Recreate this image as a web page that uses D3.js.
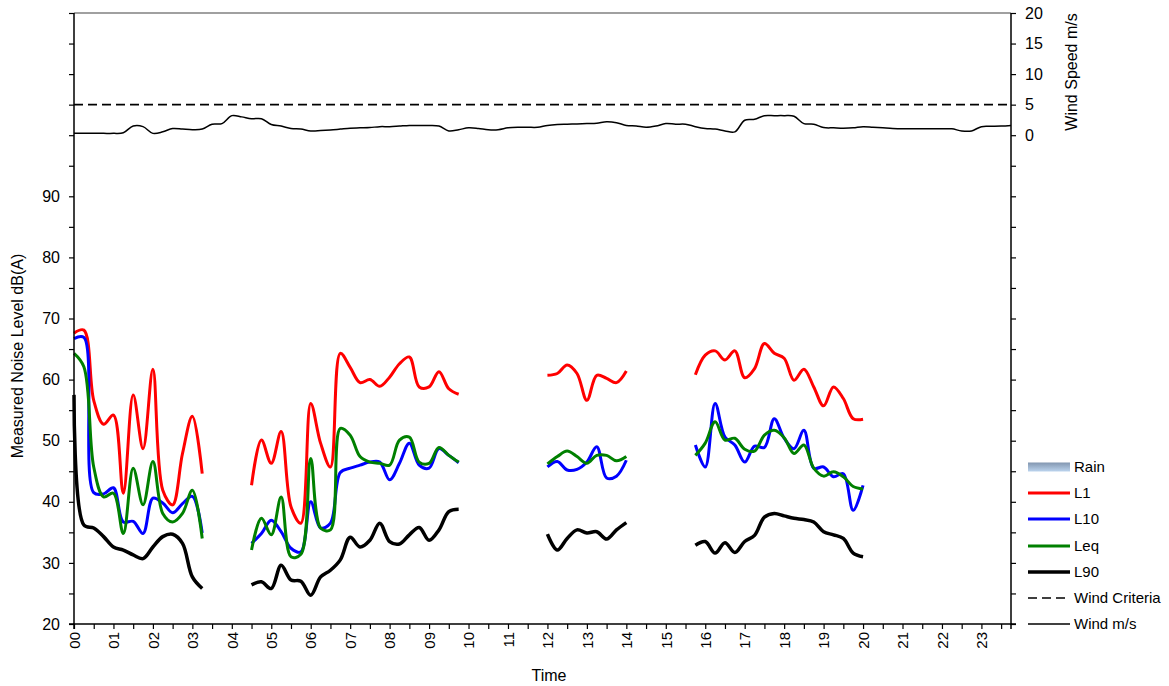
<!DOCTYPE html>
<html>
<head>
<meta charset="utf-8">
<script src="https://cdn.jsdelivr.net/npm/d3@7"></script>
<style>
  html, body { margin: 0; padding: 0; background: #fff; }
  svg { display: block; font-family: "Liberation Sans", Arial, sans-serif; }
</style>
</head>
<body>
<svg id="chart" width="1169" height="686"></svg>
<script>
const _ = null;
// 15-minute intervals, 00:00 .. 23:45 (96 slots)
const hourLabels = ["00","01","02","03","04","05","06","07","08","09","10","11",
                    "12","13","14","15","16","17","18","19","20","21","22","23"];
const leftTicks = [20, 30, 40, 50, 60, 70, 80, 90];
const rightTicks = [0, 5, 10, 15, 20];

const L1 = [
  67.6,68.1,56.6,52.7,54.2,41.4,57.5,48.7,61.7,41.9,39.5,47.9,54.0,44.6,
  _,_,_,_,
  42.7,50.1,46.3,51.5,39.2,36.5,56.1,49.6,45.7,64.3,62.0,59.5,60.0,58.9,60.4,62.6,63.7,58.8,58.8,61.3,58.5,57.6,
  _,_,_,_,_,_,_,_,
  60.7,61.0,62.4,61.0,56.6,60.7,60.2,59.5,61.4,
  _,_,_,_,_,_,
  60.8,64.0,64.7,63.2,64.7,60.3,61.8,65.9,64.3,63.5,59.9,61.7,58.8,55.7,58.8,56.9,53.6,53.5,
  _,_,_,_,_,_,_,_,_,_,_,_,_,_,_
];
const L10 = [
  66.7,66.9,41.5,41.3,42.3,36.7,36.8,34.8,40.6,39.8,38.2,39.7,40.9,34.9,
  _,_,_,_,
  33.2,34.8,37.0,35.1,32.4,31.8,40.0,35.7,36.5,44.8,45.5,46.0,46.5,46.5,43.6,46.3,49.6,46.0,45.5,48.7,47.6,46.4,
  _,_,_,_,_,_,_,_,
  45.7,46.6,45.2,45.3,46.5,49.0,43.9,44.2,46.8,
  _,_,_,_,_,_,
  49.3,45.7,56.1,50.6,49.3,46.5,49.1,48.9,53.6,50.4,48.7,51.7,45.5,45.7,44.1,44.6,38.6,42.7,
  _,_,_,_,_,_,_,_,_,_,_,_,_,_,_
];
const Leq = [
  64.3,62.1,45.7,40.8,41.4,34.8,45.5,39.5,46.6,38.1,36.7,38.1,41.9,34.0,
  _,_,_,_,
  32.1,37.3,34.6,40.8,31.0,31.4,47.1,35.7,35.4,52.0,50.9,47.4,46.5,46.3,46.0,50.1,50.6,46.5,46.3,48.9,47.6,46.5,
  _,_,_,_,_,_,_,_,
  46.2,47.4,48.3,47.4,46.3,47.6,47.6,46.7,47.4,
  _,_,_,_,_,_,
  47.6,49.6,53.1,50.1,50.4,48.6,48.3,50.9,51.7,50.5,47.9,49.3,45.5,44.2,44.9,44.1,42.5,42.1,
  _,_,_,_,_,_,_,_,_,_,_,_,_,_,_
];
const L90 = [
  57.5,36.2,35.7,34.3,32.6,32.1,31.3,30.7,32.6,34.3,34.7,33.2,27.7,25.8,
  _,_,_,_,
  26.4,26.9,25.8,29.6,27.2,27.0,24.7,27.7,28.8,30.5,34.2,32.6,33.7,36.5,33.5,33.1,34.6,35.8,33.7,35.4,38.4,38.8,
  _,_,_,_,_,_,_,_,
  34.7,32.1,34.0,35.4,34.9,35.1,33.9,35.4,36.6,
  _,_,_,_,_,_,
  32.9,33.5,31.6,33.3,31.7,33.5,34.5,37.5,38.1,37.7,37.3,37.1,36.7,35.1,34.6,34.0,31.6,31.0,
  _,_,_,_,_,_,_,_,_,_,_,_,_,_,_
];
const windSpeed = [
  0.3,0.3,0.3,0.3,0.3,0.4,1.5,1.4,0.3,0.55,
  1.1,1.0,0.9,1.0,1.8,1.9,3.2,3.0,2.7,2.7,
  1.75,1.5,1.1,1.0,0.7,0.75,0.85,1.0,1.15,1.2,
  1.25,1.4,1.4,1.5,1.6,1.6,1.6,1.5,0.7,0.9,
  1.2,1.1,0.9,0.9,1.2,1.3,1.3,1.3,1.6,1.75,
  1.8,1.85,1.9,1.95,2.2,2.05,1.6,1.5,1.3,1.5,
  1.9,1.8,1.8,1.4,1.1,1.0,0.7,0.55,2.45,2.6,
  3.2,3.2,3.2,3.1,1.9,1.8,1.25,1.2,1.15,1.2,
  1.4,1.3,1.2,1.1,1.05,1.05,1.05,1.05,1.05,1.05,
  0.7,0.7,1.4,1.45,1.5,1.6
];
const windCriteria = 5;

const seriesNames = ["L1", "L10", "Leq", "L90"];
const seriesValues = [L1, L10, Leq, L90];
const seriesColors = ["#ff0000", "#0000ff", "#008000", "#000000"];
const seriesWidths = [3, 3, 3, 3.5];

(function draw() {
const svg = d3.select("#chart");
const pL = 74, pR = 1011, pT = 13, pB = 624;

const x = d3.scaleLinear().domain([0, windSpeed.length - 1]).range([pL, pR]);
const yL = d3.scaleLinear().domain([20, 120]).range([pB, pT]);
const yR = d3.scaleLinear().domain([-80, 20]).range([pB, pT]);

const defs = svg.append("defs");
const grad = defs.append("linearGradient").attr("id", "rainGrad")
  .attr("x1", 0).attr("y1", 0).attr("x2", 0).attr("y2", 1);
grad.append("stop").attr("offset", "0%").attr("stop-color", "#8296b0");
grad.append("stop").attr("offset", "100%").attr("stop-color", "#bcd4ee");

svg.append("line").attr("x1", pL).attr("x2", pR).attr("y1", pT).attr("y2", pT)
  .attr("stroke", "#808080").attr("stroke-width", 1.5);

svg.append("line")
  .attr("x1", pL).attr("x2", pR)
  .attr("y1", yR(windCriteria)).attr("y2", yR(windCriteria))
  .attr("stroke", "#000").attr("stroke-width", 1.6).attr("stroke-dasharray", "9,5");

const curve = d3.curveCatmullRom.alpha(0.5);
svg.append("path")
  .datum(windSpeed)
  .attr("fill", "none").attr("stroke", "#000").attr("stroke-width", 1.5)
  .attr("d", d3.line().x((d, i) => x(i)).y(d => yR(d)).curve(curve));

seriesValues.forEach((vals, k) => {
  svg.append("path")
    .datum(vals)
    .attr("fill", "none")
    .attr("stroke", seriesColors[k])
    .attr("stroke-width", seriesWidths[k])
    .attr("stroke-linejoin", "round")
    .attr("d", d3.line()
      .defined(d => d !== null)
      .x((d, i) => x(i)).y(d => yL(d)).curve(curve));
});

const axL = d3.axisLeft(yL).tickValues(d3.range(20, 125, 5))
  .tickSize(5).tickPadding(9)
  .tickFormat(d => leftTicks.includes(d) ? d : "");
const gL = svg.append("g").attr("transform", `translate(${pL},0)`).call(axL);
gL.selectAll("text").style("font-size", "16px").attr("fill", "#000");

const axR = d3.axisRight(yR).tickValues(d3.range(-80, 25, 5))
  .tickSize(5).tickPadding(9)
  .tickFormat(d => rightTicks.includes(d) ? d : "");
const gR = svg.append("g").attr("transform", `translate(${pR},0)`).call(axR);
gR.selectAll("text").style("font-size", "16px").attr("fill", "#000");

const axB = d3.axisBottom(x).tickValues(d3.range(0, 96, 2))
  .tickSize(5)
  .tickFormat(i => i % 4 === 0 ? hourLabels[i / 4] : "");
const gB = svg.append("g").attr("transform", `translate(0,${pB})`).call(axB);
gB.selectAll("text")
  .style("font-size", "15px").attr("fill", "#000")
  .attr("transform", "rotate(-90)")
  .attr("text-anchor", "end")
  .attr("x", -8).attr("y", 0).attr("dy", "0.35em");

[gL, gR, gB].forEach(g => {
  g.select(".domain").attr("stroke", "#000").attr("stroke-width", 1.5);
  g.selectAll(".tick line").attr("stroke", "#000").attr("stroke-width", 1.2);
});
gL.select(".domain").attr("d", `M-5,${pB}H0V${pT}`);
gR.select(".domain").attr("d", `M5,${pB}H0V${pT}`);
gB.select(".domain").attr("d", `M${pL},5V0H${pR}V5`);

svg.append("text")
  .attr("transform", `translate(23,356) rotate(-90)`)
  .attr("text-anchor", "middle")
  .style("font-size", "16px")
  .text("Measured Noise Level dB(A)");
svg.append("text")
  .attr("transform", `translate(1077,72) rotate(-90)`)
  .attr("text-anchor", "middle")
  .style("font-size", "16px")
  .text("Wind Speed m/s");
svg.append("text")
  .attr("x", 549).attr("y", 681)
  .attr("text-anchor", "middle")
  .style("font-size", "16px")
  .text("Time");

const legendItems = ["Rain", ...seriesNames, "Wind Criteria", "Wind m/s"];
const legY = [467, 493, 519, 546, 572, 598, 624];
const lx0 = 1028, lx1 = 1070, tx = 1074;
const lg = svg.append("g");
legendItems.forEach((name, i) => {
  const y = legY[i];
  if (name === "Rain") {
    lg.append("rect").attr("x", lx0).attr("y", y - 4.5).attr("width", lx1 - lx0).attr("height", 9)
      .attr("fill", "url(#rainGrad)");
  } else if (seriesNames.includes(name)) {
    const k = seriesNames.indexOf(name);
    lg.append("line").attr("x1", lx0).attr("x2", lx1).attr("y1", y).attr("y2", y)
      .attr("stroke", seriesColors[k]).attr("stroke-width", seriesWidths[k]);
  } else if (name === "Wind Criteria") {
    lg.append("line").attr("x1", lx0).attr("x2", lx1).attr("y1", y).attr("y2", y)
      .attr("stroke", "#000").attr("stroke-width", 1.5).attr("stroke-dasharray", "9,5");
  } else {
    lg.append("line").attr("x1", lx0).attr("x2", lx1).attr("y1", y).attr("y2", y)
      .attr("stroke", "#000").attr("stroke-width", 1.5);
  }
  lg.append("text").attr("x", tx).attr("y", y).attr("dy", "0.36em")
    .style("font-size", "15px").text(name);
});
})();
</script>
</body>
</html>
